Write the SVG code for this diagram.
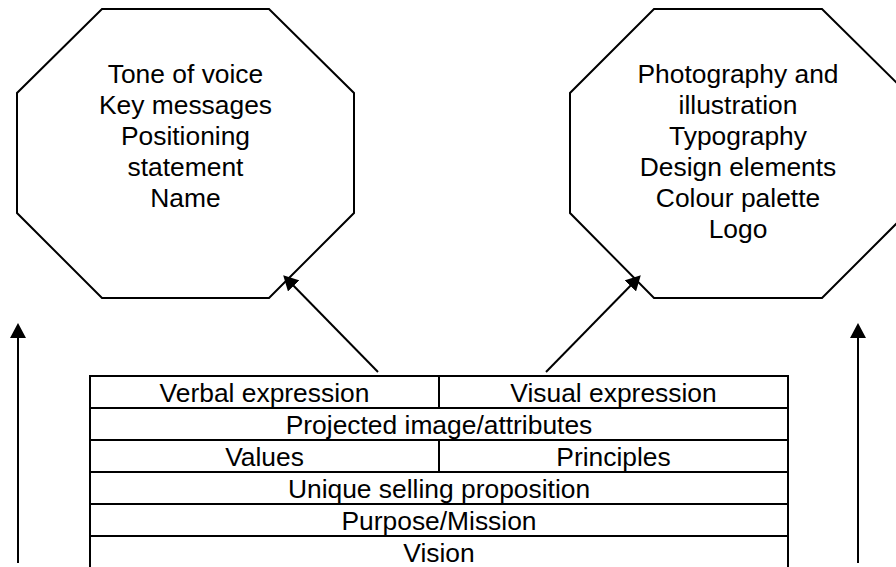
<svg xmlns="http://www.w3.org/2000/svg" width="896" height="567" viewBox="0 0 896 567">
  <style>
    .shape { fill: #ffffff; stroke: #000000; stroke-width: 2; }
    .rule { stroke: #000000; stroke-width: 2; fill: none; }
    .label { font-family: "Liberation Sans", Arial, sans-serif; font-size: 26.4px; fill: #000000; text-anchor: middle; }
    .link { stroke: #000000; stroke-width: 2; fill: none; marker-end: url(#head); }
  </style>
  <defs>
    <marker id="head" viewBox="0 0 15 16" refX="11" refY="8" markerWidth="15" markerHeight="16" markerUnits="userSpaceOnUse" orient="auto">
      <path d="M0,0 L15,8 L0,16 Z" fill="#000000"/>
    </marker>
  </defs>
  <rect width="896" height="567" fill="#ffffff"/>

  <!-- verbal identity octagon -->
  <g id="verbal-octagon">
    <polygon class="shape" points="102,9 269,9 354,93 354,213 269,298 102,298 17,213 17,93"/>
    <text class="label" x="185.5" y="83">Tone of voice</text>
    <text class="label" x="185.5" y="114">Key messages</text>
    <text class="label" x="185.5" y="145">Positioning</text>
    <text class="label" x="185.5" y="176">statement</text>
    <text class="label" x="185.5" y="207">Name</text>
  </g>

  <!-- visual identity octagon -->
  <g id="visual-octagon">
    <polygon class="shape" points="654,9 822,9 907,93 907,213 822,298 654,298 570,213 570,93"/>
    <text class="label" x="738" y="83">Photography and</text>
    <text class="label" x="738" y="114">illustration</text>
    <text class="label" x="738" y="145">Typography</text>
    <text class="label" x="738" y="176">Design elements</text>
    <text class="label" x="738" y="207">Colour palette</text>
    <text class="label" x="738" y="238">Logo</text>
  </g>

  <!-- layered table -->
  <g id="brand-stack">
    <rect class="shape" x="90" y="376" width="698" height="194"/>
    <line class="rule" x1="90" y1="408" x2="788" y2="408"/>
    <line class="rule" x1="90" y1="440" x2="788" y2="440"/>
    <line class="rule" x1="90" y1="472" x2="788" y2="472"/>
    <line class="rule" x1="90" y1="504" x2="788" y2="504"/>
    <line class="rule" x1="90" y1="536" x2="788" y2="536"/>
    <line class="rule" x1="439" y1="376" x2="439" y2="408"/>
    <line class="rule" x1="439" y1="440" x2="439" y2="472"/>
    <g id="row-expression">
      <text class="label" x="264.5" y="402">Verbal expression</text>
      <text class="label" x="613.5" y="402">Visual expression</text>
    </g>
    <g id="row-image">
      <text class="label" x="439" y="434">Projected image/attributes</text>
    </g>
    <g id="row-values">
      <text class="label" x="264.5" y="466">Values</text>
      <text class="label" x="613.5" y="466">Principles</text>
    </g>
    <g id="row-usp">
      <text class="label" x="439" y="498">Unique selling proposition</text>
    </g>
    <g id="row-purpose">
      <text class="label" x="439" y="530">Purpose/Mission</text>
    </g>
    <g id="row-vision">
      <text class="label" x="439" y="562">Vision</text>
    </g>
  </g>

  <!-- connectors -->
  <g id="connectors">
    <line class="link" x1="378" y1="372" x2="286" y2="278"/>
    <line class="link" x1="546" y1="372" x2="638" y2="278"/>
    <line class="link" x1="18" y1="563" x2="18" y2="327"/>
    <line class="link" x1="858" y1="563" x2="858" y2="327"/>
  </g>
</svg>
